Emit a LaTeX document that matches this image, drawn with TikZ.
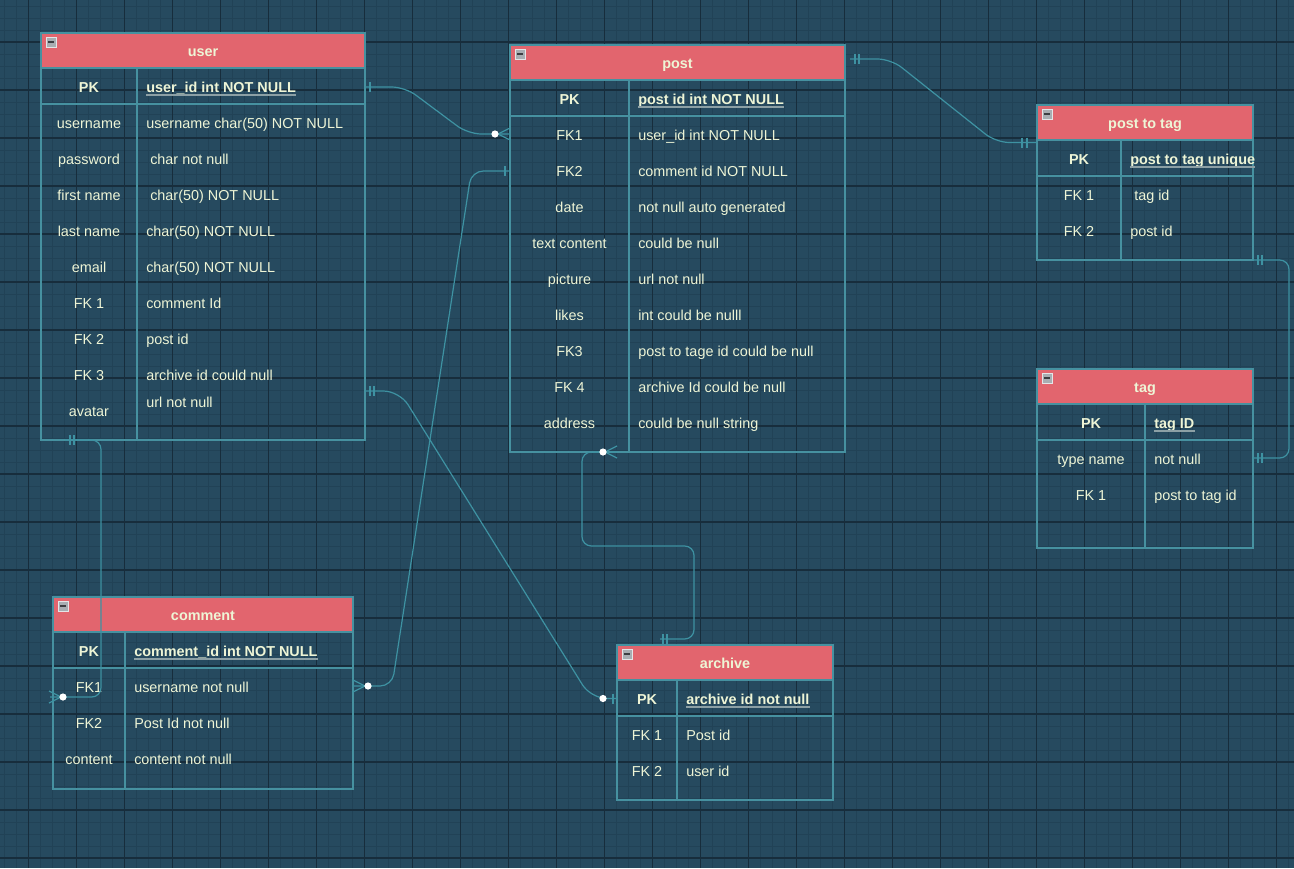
\documentclass[tikz,border=0pt]{standalone}
\usepackage{fontspec}
\setmainfont{Liberation Sans}
\definecolor{bgc}{RGB}{38,74,95}
\definecolor{gridminor}{RGB}{33,66,86}
\definecolor{gridmajor}{RGB}{23,45,60}
\definecolor{tealb}{RGB}{70,145,160}
\definecolor{connc}{RGB}{62,146,162}
\definecolor{hdrred}{RGB}{226,101,110}
\definecolor{txt}{RGB}{238,245,214}
\definecolor{ulc}{RGB}{140,160,165}
\newcommand\ertable[8]{%
  % #1 name, #2 left, #3 top, #4 right, #5 bottom, #6 header bottom, #7 divider x, #8 key row line
  \fill[hdrred] (#2,#3) rectangle (#4,#6);
  \node[tblbox, minimum width={(#4-#2)*0.75pt}, minimum height={(#5-#3)*0.75pt}, anchor=north west] (#1) at (#2,#3) {};
  \draw[tbl] (#2,#6) -- (#4,#6);
  \draw[tbl] (#7,#6) -- (#7,#5);
  \draw[tbl] (#2,#8) -- (#4,#8);
  \draw[iconbox] ({#2+5},{#3+4}) rectangle ++(10,10);
  \fill[iconbar] ({#2+7},{#3+8.2}) rectangle ++(6,1.8);
}
\newcommand\crowat[3]{% apex x, apex y, +1 prongs to the right / -1 to the left
  \draw[connl] (#1,#2) -- ++({#3*12},-6) (#1,#2) -- ++({#3*12},6);}
\newcommand\tickv[2]{\draw[connl] (#1,{#2-5}) -- (#1,{#2+5});}
\newcommand\dotat[1]{\fill[white] (#1) circle[radius=2.7pt];}
\newcommand\ulnode[1]{\draw[ul] ([yshift=-2.4pt]#1.base west) -- ([yshift=-2.4pt]#1.base east);}
\begin{document}
\begin{tikzpicture}[x=0.75pt,y=-0.75pt,
  tblbox/.style={draw=tealb, line width=0.9pt, inner sep=0pt, outer sep=0pt, rectangle},
  tbl/.style={draw=tealb, line width=0.9pt},
  iconbox/.style={fill={rgb,255:red,168;green,173;blue,178}, draw={rgb,255:red,228;green,230;blue,232}, line width=0.6pt},
  iconbar/.style={fill={rgb,255:red,60;green,62;blue,66}},
  cell/.style={text=txt, inner sep=0pt, anchor=base, font=\fontsize{10.8}{13}\selectfont},
  keyc/.style={cell, font=\bfseries\fontsize{10.8}{13}\selectfont},
  val/.style={cell, anchor=base west},
  valb/.style={keyc, anchor=base west},
  title/.style={keyc},
  ul/.style={draw=ulc, line width=1.1pt},
  conn/.style={draw=connc, line width=0.9pt, rounded corners=7pt},
  diag/.style={conn, rounded corners=10pt},
  connl/.style={draw=connc, line width=0.9pt},
]
\useasboundingbox (0,0) rectangle (1294,868);
% canvas and grid
\fill[bgc] (0,0) rectangle (1294,868);
\foreach \x in {4.5,16.5,...,1294} \draw[gridminor, line width=0.6pt] (\x,0) -- (\x,868);
\foreach \y in {6,18,...,868} \draw[gridminor, line width=0.6pt] (0,\y) -- (1294,\y);
\foreach \x in {28.5,76.5,...,1294} \draw[gridmajor, line width=0.9pt] (\x,0) -- (\x,868);
\foreach \y in {42,90,...,868} \draw[gridmajor, line width=0.9pt] (0,\y) -- (1294,\y);

% ---------- user ----------
\ertable{user}{41}{33}{365}{440}{68}{137}{104}
\node[title] (user-t) at (203,56) {user};
\node[keyc] (user-k0) at (89,92) {PK};
\node[valb] (user-v0) at (146,92) {user\_id int NOT NULL}; \ulnode{user-v0}
\node[cell] (user-k1) at (89,128) {username};
\node[val]  (user-v1) at (146,128) {username char(50) NOT NULL};
\node[cell] (user-k2) at (89,164) {password};
\node[val]  (user-v2) at (150,164) {char not null};
\node[cell] (user-k3) at (89,200) {first name};
\node[val]  (user-v3) at (150,200) {char(50) NOT NULL};
\node[cell] (user-k4) at (89,236) {last name};
\node[val]  (user-v4) at (146,236) {char(50) NOT NULL};
\node[cell] (user-k5) at (89,272) {email};
\node[val]  (user-v5) at (146,272) {char(50) NOT NULL};
\node[cell] (user-k6) at (89,308) {FK 1};
\node[val]  (user-v6) at (146,308) {comment Id};
\node[cell] (user-k7) at (89,344) {FK 2};
\node[val]  (user-v7) at (146,344) {post id};
\node[cell] (user-k8) at (89,380) {FK 3};
\node[val]  (user-v8) at (146,380) {archive id could null};
\node[cell] (user-k9) at (89,416) {avatar};
\node[val]  (user-v9) at (146,407) {url not null};

% ---------- post ----------
\ertable{post}{510}{45}{845}{452}{80}{629}{116}
\node[title] (post-t) at (677.5,68) {post};
\node[keyc] (post-k0) at (569.5,104) {PK};
\node[valb] (post-v0) at (638,104) {post id int NOT NULL}; \ulnode{post-v0}
\node[cell] (post-k1) at (569.5,140) {FK1};
\node[val]  (post-v1) at (638,140) {user\_id int NOT NULL};
\node[cell] (post-k2) at (569.5,176) {FK2};
\node[val]  (post-v2) at (638,176) {comment id NOT NULL};
\node[cell] (post-k3) at (569.5,212) {date};
\node[val]  (post-v3) at (638,212) {not null auto generated};
\node[cell] (post-k4) at (569.5,248) {text content};
\node[val]  (post-v4) at (638,248) {could be null};
\node[cell] (post-k5) at (569.5,284) {picture};
\node[val]  (post-v5) at (638,284) {url not null};
\node[cell] (post-k6) at (569.5,320) {likes};
\node[val]  (post-v6) at (638,320) {int could be nulll};
\node[cell] (post-k7) at (569.5,356) {FK3};
\node[val]  (post-v7) at (638,356) {post to tage id could be null};
\node[cell] (post-k8) at (569.5,392) {FK 4};
\node[val]  (post-v8) at (638,392) {archive Id could be null};
\node[cell] (post-k9) at (569.5,428) {address};
\node[val]  (post-v9) at (638,428) {could be null string};

% ---------- post to tag ----------
\ertable{ptt}{1037}{105}{1253}{260}{140}{1121}{176}
\node[title] (ptt-t) at (1145,128) {post to tag};
\node[keyc] (ptt-k0) at (1079,164) {PK};
\node[valb] (ptt-v0) at (1130,164) {post to tag unique}; \ulnode{ptt-v0}
\node[cell] (ptt-k1) at (1079,200) {FK 1};
\node[val]  (ptt-v1) at (1134,200) {tag id};
\node[cell] (ptt-k2) at (1079,236) {FK 2};
\node[val]  (ptt-v2) at (1130,236) {post id};

% ---------- tag ----------
\ertable{tag}{1037}{369}{1253}{548}{404}{1145}{440}
\node[title] (tag-t) at (1145,392) {tag};
\node[keyc] (tag-k0) at (1091,428) {PK};
\node[valb] (tag-v0) at (1154,428) {tag ID}; \ulnode{tag-v0}
\node[cell] (tag-k1) at (1091,464) {type name};
\node[val]  (tag-v1) at (1154,464) {not null};
\node[cell] (tag-k2) at (1091,500) {FK 1};
\node[val]  (tag-v2) at (1154,500) {post to tag id};

% ---------- comment ----------
\ertable{comment}{53}{597}{353}{789}{632}{125}{668}
\node[title] (comment-t) at (203,620) {comment};
\node[keyc] (comment-k0) at (89,656) {PK};
\node[valb] (comment-v0) at (134,656) {comment\_id int NOT NULL}; \ulnode{comment-v0}
\node[cell] (comment-k1) at (89,692) {FK1};
\node[val]  (comment-v1) at (134,692) {username not null};
\node[cell] (comment-k2) at (89,728) {FK2};
\node[val]  (comment-v2) at (134,728) {Post Id not null};
\node[cell] (comment-k3) at (89,764) {content};
\node[val]  (comment-v3) at (134,764) {content not null};

% ---------- archive ----------
\ertable{archive}{617}{645}{833}{800}{680}{677}{716}
\node[title] (archive-t) at (725,668) {archive};
\node[keyc] (archive-k0) at (647,704) {PK};
\node[valb] (archive-v0) at (686,704) {archive id not null}; \ulnode{archive-v0}
\node[cell] (archive-k1) at (647,740) {FK 1};
\node[val]  (archive-v1) at (686,740) {Post id};
\node[cell] (archive-k2) at (647,776) {FK 2};
\node[val]  (archive-v2) at (686,776) {user id};

% ---------- relationship end points ----------
\coordinate (user-pk-e)    at (365,87);
\coordinate (post-fk1-w)   at (510,134);
\coordinate (post-pk-e)    at (850,59);
\coordinate (ptt-pk-w)     at (1037,142.5);
\coordinate (ptt-se)       at (1253,260);
\coordinate (tag-type-e)   at (1253,458);
\coordinate (user-fk3-e)   at (365,391);
\coordinate (archive-pk-w) at (617,698.5);
\coordinate (comment-fk1-e) at (353,686);
\coordinate (post-fk2-w)   at (510,171);
\coordinate (archive-n)    at (660,639);
\coordinate (post-s)       at (617,452);
\coordinate (user-s)       at (65,440);
\coordinate (comment-fk1-w) at (50,697);

% user 1 -- many post
\draw[diag] (user-pk-e) -- (405,87) -- (468,134) -- (post-fk1-w);
\tickv{370}{87}
\crowat{498}{134}{1}
\dotat{495,134}

% post 1 -- many post to tag
\draw[diag] (post-pk-e) -- (891,59) -- (996,142.5) -- (ptt-pk-w);
\tickv{855}{59}\tickv{859}{59}
\tickv{1022}{142.5}\tickv{1027}{142.5}

% post to tag -- tag
\draw[conn] (ptt-se) -- (1289,260) -- (1289,458) -- (tag-type-e);
\tickv{1258}{260}\tickv{1262}{260}
\tickv{1258}{458}\tickv{1262}{458}

% user -- archive
\draw[diag, rounded corners=12pt] (user-fk3-e) -- (399.5,391) -- (591,698.5) -- (archive-pk-w);
\tickv{370}{391}\tickv{374}{391}
\tickv{613}{698.5}
\dotat{603,698.5}

% comment many -- post
\draw[diag, rounded corners=9pt] (comment-fk1-e) -- (392,686) -- (471.4,171) -- (post-fk2-w);
\tickv{505}{171}
\crowat{365}{686}{-1}
\dotat{368,686}

% archive -- many post
\draw[conn] (archive-n) -- (694,639) -- (694,546) -- (582,546) -- (582,452) -- (post-s);
\tickv{663}{639}\tickv{667}{639}
\crowat{605}{452}{1}
\dotat{603,452}

% user -- many comment
\draw[conn] (user-s) -- (101,440) -- (101,697) -- (comment-fk1-w);
\tickv{70}{440}\tickv{74}{440}
\crowat{61}{697}{-1}
\dotat{63,697}
\end{tikzpicture}
\end{document}
